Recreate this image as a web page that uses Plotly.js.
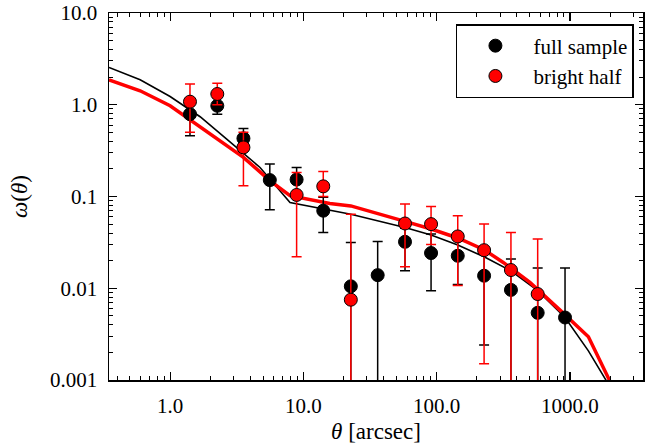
<!DOCTYPE html>
<html><head><meta charset="utf-8">
<script src="https://cdn.plot.ly/plotly-3.0.1.min.js"></script>
<style>html,body{margin:0;padding:0;background:#fff}</style>
</head><body><div id="chart" style="width:645px;height:444px"></div>
<script>
// angular separations (arcsec)
const theta = [1.41, 2.26, 3.55, 5.6, 8.9, 14.1, 22.7, 36.1, 57.9, 90.8, 144, 227, 361, 573, 919];
// full sample: value, upper and lower error-bar ends (0 = goes below axis)
const fullW  = [0.79, 0.975, 0.43, 0.151, 0.153, 0.070, 0.0105, 0.0139, 0.0321, 0.0242, 0.0226, 0.0137, 0.0096, 0.0054, 0.0048];
const fullHi = [1.1, 1.2, 0.55, 0.226, 0.207, 0.098, 0.0316, 0.0324, 0.045, 0.039, 0.035, 0.025, 0.0208, 0.0166, 0.0166];
const fullLo = [0.46, 0.79, 0.33, 0.0718, 0.10, 0.0406, 0, 0, 0.0155, 0.0094, 0.011, 0.0024, 0, 0, 0];
// bright half
const brightW  = [1.08, 1.31, 0.343, null, 0.104, 0.129, 0.0075, null, 0.0508, 0.050, 0.0367, 0.026, 0.0158, 0.00865, null];
const brightHi = [1.68, 1.71, 0.5, null, 0.183, 0.1875, 0.064, null, 0.0827, 0.078, 0.0617, 0.050, 0.0406, 0.0344, null];
const brightLo = [0.5, 1.0, 0.131, null, 0.022, 0.1, 0, null, 0.0172, 0.03, 0.0107, 0.0015, 0, 0, null];
// model curves
const modelFullX = [0.348, 0.596, 1.0, 1.68, 2.66, 4.73, 7.94, 22.7, 57.9, 90.8, 144, 227, 361, 573, 919, 1376, 1862, 2000];
const modelFullY = [2.55, 1.87, 1.23, 0.74, 0.423, 0.207, 0.086, 0.064, 0.046, 0.038, 0.0296, 0.022, 0.0155, 0.0094, 0.0048, 0.00208, 0.001, 0.0007];
const modelBrightX = [0.348, 0.596, 1.0, 2.0, 3.55, 5.6, 7.94, 15.8, 22.7, 57.9, 90.8, 144, 227, 316, 501, 843, 1376, 1977, 2100];
const modelBrightY = [1.87, 1.42, 0.975, 0.48, 0.267, 0.149, 0.102, 0.084, 0.079, 0.0535, 0.0442, 0.0353, 0.0263, 0.0191, 0.0116, 0.00578, 0.00296, 0.001, 0.0007];
// tick labels
const xTickVals = [1, 10, 100, 1000];
const xTickText = ['1.0', '10.0', '100.0', '1000.0'];
const yTickVals = [0.001, 0.01, 0.1, 1, 10];
const yTickText = ['0.001', '0.01', '0.1', '1.0', '10.0'];

function plus(w, hi) { return w.map((v, i) => v == null ? null : hi[i] - v); }
function minus(w, lo) { return w.map((v, i) => v == null ? null : (lo[i] > 0 ? v - lo[i] : v)); }
function minorTicks(d0, d1) {
  const out = [];
  for (let d = d0; d <= d1; d++) for (let m = 2; m <= 9; m++) out.push(m * Math.pow(10, d));
  return out;
}

const FONT = 'Liberation Serif';

const traces = [
  {x: modelFullX, y: modelFullY, mode: 'lines', line: {color: '#000', width: 1.6}, showlegend: false, hoverinfo: 'skip'},
  {x: modelBrightX, y: modelBrightY, mode: 'lines', line: {color: '#ff0000', width: 3.5}, showlegend: false, hoverinfo: 'skip'},
  {x: theta, y: fullW, mode: 'markers', name: 'full sample',
   marker: {color: '#000', size: 13, line: {color: '#000', width: 1}},
   error_y: {type: 'data', symmetric: false, array: plus(fullW, fullHi), arrayminus: minus(fullW, fullLo), color: '#000', thickness: 1.5, width: 5}},
  {x: theta, y: brightW, mode: 'markers', name: 'bright half',
   marker: {color: '#ff0000', size: 13, line: {color: '#000', width: 1}},
   error_y: {type: 'data', symmetric: false, array: plus(brightW, brightHi), arrayminus: minus(brightW, brightLo), color: '#ff0000', thickness: 1.5, width: 5}}
];

const axisCommon = {
  type: 'log', showgrid: false, zeroline: false, showline: true, linecolor: '#000', linewidth: 1.5,
  mirror: 'allticks', ticks: 'inside', ticklen: 8, tickwidth: 1.2, tickcolor: '#000',
  tickmode: 'array', tickfont: {family: FONT, size: 21, color: '#000'},
  ticklabelstandoff: 6
};

const layout = {
  width: 645, height: 444,
  margin: {l: 109, r: 2, t: 13, b: 64},
  paper_bgcolor: '#fff', plot_bgcolor: '#fff',
  font: {family: FONT, color: '#000'},
  showlegend: true,
  legend: {x: 0.983, y: 0.97, xanchor: 'right', yanchor: 'top', bgcolor: '#fff', bordercolor: '#000', borderwidth: 1.5,
           font: {family: FONT, size: 21, color: '#000'}, itemwidth: 66},
  xaxis: Object.assign({}, axisCommon, {
    range: [Math.log10(0.348), Math.log10(3535)], tickvals: xTickVals, ticktext: xTickText,
    minor: {tickmode: 'array', tickvals: minorTicks(-1, 3), ticks: 'inside', ticklen: 4, tickwidth: 1, tickcolor: '#000', showgrid: false},
    title: {text: '<i>θ</i> [arcsec]', font: {family: FONT, size: 23, color: '#000'}, standoff: 12}
  }),
  yaxis: Object.assign({}, axisCommon, {
    range: [-3, 1], tickvals: yTickVals, ticktext: yTickText,
    minor: {tickmode: 'array', tickvals: minorTicks(-3, 0), ticks: 'inside', ticklen: 4, tickwidth: 1, tickcolor: '#000', showgrid: false},
    title: {text: '<i>ω</i>(<i>θ</i>)', font: {family: FONT, size: 23, color: '#000'}, standoff: 16}
  })
};

Plotly.newPlot('chart', traces, layout, {displayModeBar: false, staticPlot: true});
</script>
</body></html>
